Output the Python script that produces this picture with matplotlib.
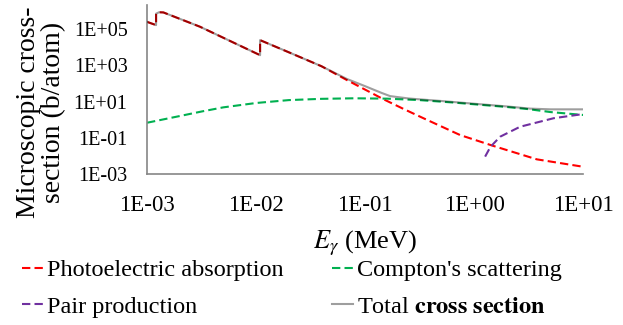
import matplotlib
matplotlib.use("Agg")
import matplotlib.pyplot as plt
import matplotlib.ticker as mticker

# values (log10 of energy in MeV, log10 of cross section in b/atom)
photo_logx = [-3.0, -2.917, -2.917, -2.89, -2.85, -2.514, -1.963, -1.963, -1.688,
              -1.4, -1.168, -1.0, -0.832, -0.65, -0.465, -0.128, 0.177, 0.575, 1.0]
photo_logy = [5.40, 5.22, 5.85, 5.93, 5.92, 5.13, 3.56, 4.39, 3.69,
              2.95, 2.19, 1.66, 1.13, 0.60, 0.08, -0.85, -1.45, -2.19, -2.60]

compton_logx = [-3.0, -2.7, -2.5, -2.3, -2.0, -1.7, -1.4, -1.1, -0.8, -0.5,
                -0.2, 0.0, 0.3, 0.5, 0.7, 1.0]
compton_logy = [-0.17, 0.20, 0.45, 0.68, 0.92, 1.08, 1.15, 1.18, 1.16, 1.08,
                0.95, 0.85, 0.70, 0.58, 0.42, 0.26]

pair_logx = [0.101, 0.15, 0.239, 0.422, 0.73, 1.0]
pair_logy = [-2.04, -1.50, -0.94, -0.39, 0.08, 0.31]

total_logx = [-3.0, -2.917, -2.917, -2.89, -2.85, -2.514, -1.963, -1.963, -1.688,
              -1.4, -1.168, -1.0, -0.85, -0.77, -0.6, -0.495, -0.3, 0.0, 0.3,
              0.514, 0.7, 1.0]
total_logy = [5.40, 5.22, 5.85, 5.93, 5.92, 5.13, 3.56, 4.39, 3.69,
              2.95, 2.25, 1.85, 1.48, 1.30, 1.17, 1.12, 1.03, 0.88, 0.73,
              0.61, 0.57, 0.57]

x_ticks = [1e-3, 1e-2, 1e-1, 1e0, 1e1]
y_ticks = [1e-3, 1e-1, 1e1, 1e3, 1e5]

plt.rcParams["font.family"] = ["Liberation Serif", "DejaVu Serif"]
plt.rcParams["mathtext.fontset"] = "stix"


def pw(v):
    return [10 ** a for a in v]


fig = plt.figure(figsize=(6.23, 3.25), dpi=100)
ax = fig.add_axes([0.236, 0.4646, 0.700, 0.520])

l_photo, = ax.plot(pw(photo_logx), pw(photo_logy), color="#FF0000", lw=1.5,
                   dashes=(4, 2), label="Photoelectric absorption", zorder=2)
l_comp, = ax.plot(pw(compton_logx), pw(compton_logy), color="#00B050", lw=1.5,
                  dashes=(4, 2), label="Compton's scattering", zorder=2)
l_pair, = ax.plot(pw(pair_logx), pw(pair_logy), color="#7030A0", lw=1.5,
                  dashes=(4, 2), label="Pair production", zorder=2)
l_tot, = ax.plot(pw(total_logx), pw(total_logy), color="black", alpha=0.38, lw=1.5,
                 label=r"Total $\mathbf{cross\ section}$", zorder=3)

ax.set_xscale("log")
ax.set_yscale("log")
ax.set_xlim(1e-3, 1e1)
ax.set_ylim(1e-3, 10 ** 6.33)
ax.set_xticks(x_ticks)
ax.set_yticks(y_ticks)
ax.xaxis.set_minor_locator(mticker.NullLocator())
ax.yaxis.set_minor_locator(mticker.NullLocator())

fmt = mticker.FuncFormatter(lambda v, p: f"{v:.0E}")
ax.xaxis.set_major_formatter(fmt)
ax.yaxis.set_major_formatter(fmt)
ax.tick_params(length=0, colors="black")
ax.tick_params(axis="x", pad=15, labelsize=16.5)
ax.tick_params(axis="y", pad=14, labelsize=14.5)

for s in ("top", "right"):
    ax.spines[s].set_visible(False)
for s in ("left", "bottom"):
    ax.spines[s].set_color("#868686")
    ax.spines[s].set_linewidth(1.2)

ax.set_ylabel("Microscopic cross-\nsection (b/atom)", fontsize=20, linespacing=1.0)
ax.yaxis.set_label_coords(-0.186, 0.367)
ax.set_xlabel(r"$E_\gamma$ (MeV)", fontsize=19, labelpad=9)

fig.legend([l_photo, l_pair, l_comp, l_tot],
           [l.get_label() for l in (l_photo, l_pair, l_comp, l_tot)],
           loc="upper left", bbox_to_anchor=(0.035, 0.203), ncol=2,
           frameon=False, fontsize=17.5, handlelength=0.87, handletextpad=0.16,
           columnspacing=2.0, labelspacing=0.6, borderpad=0, borderaxespad=0)

fig.savefig("out.png", dpi=100)
